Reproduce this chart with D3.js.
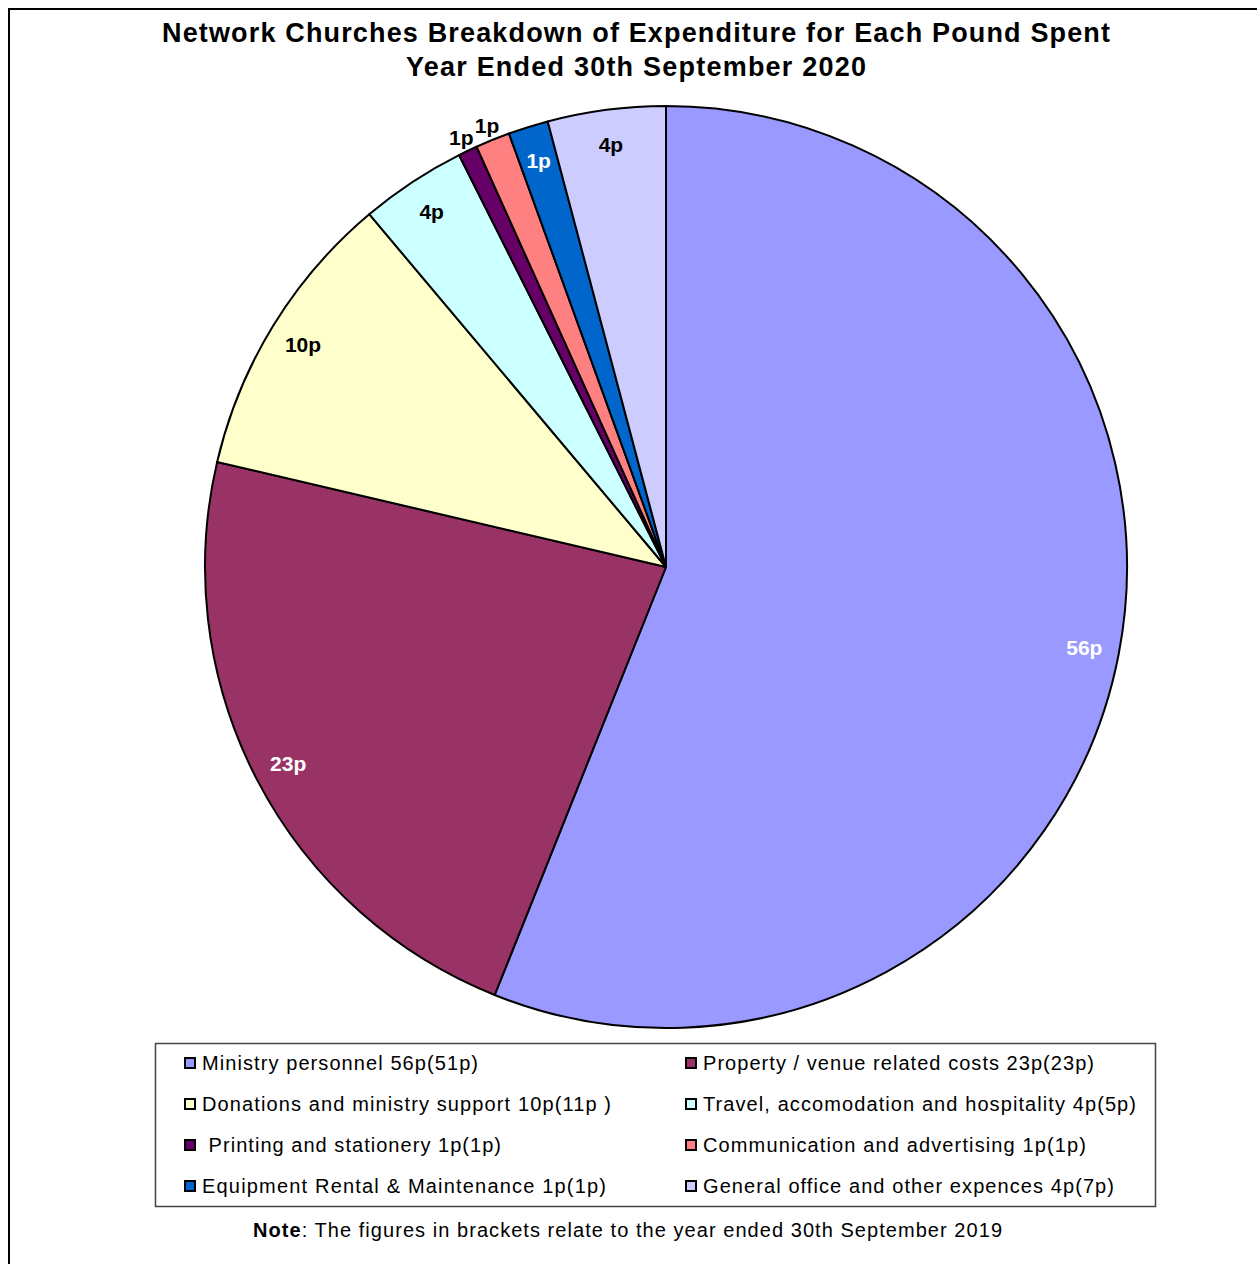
<!DOCTYPE html>
<html>
<head>
<meta charset="utf-8">
<script src="https://cdn.jsdelivr.net/npm/d3@7"></script>
<style>
    body { margin: 0; background: #fff; }
    text { font-family: "Liberation Sans", Arial, sans-serif; }
</style>
</head>
<body>
<svg id="chart" width="1257" height="1264"></svg>
<script>
const categories = [
    'Ministry personnel',
    'Property / venue related costs',
    'Donations and ministry support',
    'Travel, accomodation and hospitality',
    'Printing and stationery',
    'Communication and advertising',
    'Equipment Rental & Maintenance',
    'General office and other expences'
];

// share of each pound (pence)
const values = [56.06, 22.6, 10.21, 3.72, 0.67, 1.21, 1.4, 4.13];

// labels printed on the slices
const sliceLabels = ['56p', '23p', '10p', '4p', '1p', '1p', '1p', '4p'];

// legend text, 2020 figure with 2019 in brackets
const legendLabels = [
    'Ministry personnel 56p(51p)',
    'Property / venue related costs 23p(23p)',
    'Donations and ministry support 10p(11p )',
    'Travel, accomodation and hospitality 4p(5p)',
    ' Printing and stationery 1p(1p)',
    'Communication and advertising 1p(1p)',
    'Equipment Rental & Maintenance 1p(1p)',
    'General office and other expences 4p(7p)'
];

const titleLines = [
    'Network Churches Breakdown of Expenditure for Each Pound Spent',
    'Year Ended 30th September 2020'
];

const noteText = ': The figures in brackets relate to the year ended 30th September 2019';

// styling
const colors = ['#9999ff', '#993366', '#ffffcc', '#ccffff', '#660066', '#ff8080', '#0066cc', '#ccccff'];
const labelColors = ['#fff', '#fff', '#000', '#000', '#000', '#000', '#fff', '#000'];
const outside = [false, false, false, false, true, true, false, false];

// the original text is set wider than Liberation Sans, stretch to fit
const titleWidths = [948, 460];
const legendWidths = [276, 391, 409, 433, 299, 383, 404, 411];

const svg = d3.select("svg#chart");

// outer frame (runs off the right and bottom)
svg.append("rect")
    .attr("x", 9)
    .attr("y", 9)
    .attr("width", 1400)
    .attr("height", 1400)
    .attr("fill", "none")
    .attr("stroke", "#000")
    .attr("stroke-width", 2);

// Title

svg.selectAll("text.title")
    .data(titleLines)
    .join("text")
    .attr("class", "title")
    .attr("x", 636)
    .attr("y", (d, i) => 42 + i * 34)
    .attr("text-anchor", "middle")
    .attr("textLength", (d, i) => titleWidths[i])
    .style("font-size", "27px")
    .style("font-weight", "bold")
    .text(d => d);

// Pie

const cx = 666, cy = 567, r = 461;

const pie = d3.pie().sort(null).value(d => d);
const arc = d3.arc().innerRadius(0).outerRadius(r);
const arcs = pie(values);

const g = svg.append("g")
    .attr("transform", `translate(${cx},${cy})`);

g.selectAll("path")
    .data(arcs)
    .join("path")
    .attr("d", arc)
    .attr("fill", (d, i) => colors[i])
    .attr("stroke", "#000")
    .attr("stroke-width", 2)
    .attr("stroke-linejoin", "round");

const inLabel = d3.arc().innerRadius(426).outerRadius(426);
const outLabel = d3.arc().innerRadius(476).outerRadius(476);

g.selectAll("text.slice")
    .data(arcs)
    .join("text")
    .attr("class", "slice")
    .attr("transform", (d, i) => `translate(${(outside[i] ? outLabel : inLabel).centroid(d)})`)
    .attr("text-anchor", "middle")
    .attr("dy", "0.36em")
    .attr("fill", (d, i) => labelColors[i])
    .style("font-size", "21px")
    .style("font-weight", "bold")
    .text((d, i) => sliceLabels[i]);

// Legend

svg.append("rect")
    .attr("x", 155.5)
    .attr("y", 1043.5)
    .attr("width", 1000)
    .attr("height", 163)
    .attr("fill", "#fff")
    .attr("stroke", "#444")
    .attr("stroke-width", 1.5);

const legend = svg.append("g")
    .attr("class", "legend");

const item = legend.selectAll("g")
    .data(categories)
    .join("g")
    .attr("transform", (d, i) => `translate(${184 + (i % 2) * 501},${1063 + Math.floor(i / 2) * 41})`);

item.append("rect")
    .attr("x", 1)
    .attr("y", -5)
    .attr("width", 10)
    .attr("height", 10)
    .attr("fill", (d, i) => colors[i])
    .attr("stroke", "#000")
    .attr("stroke-width", 2);

item.append("text")
    .attr("x", 18)
    .attr("y", 7)
    .attr("textLength", (d, i) => legendWidths[i])
    .style("font-size", "20px")
    .style("white-space", "pre")
    .attr("xml:space", "preserve")
    .text((d, i) => legendLabels[i]);

// Note

const note = svg.append("text")
    .attr("x", 253)
    .attr("y", 1237)
    .attr("textLength", 749)
    .style("font-size", "20px");
note.append("tspan").style("font-weight", "bold").text("Note");
note.append("tspan").text(noteText);
</script>
</body>
</html>
